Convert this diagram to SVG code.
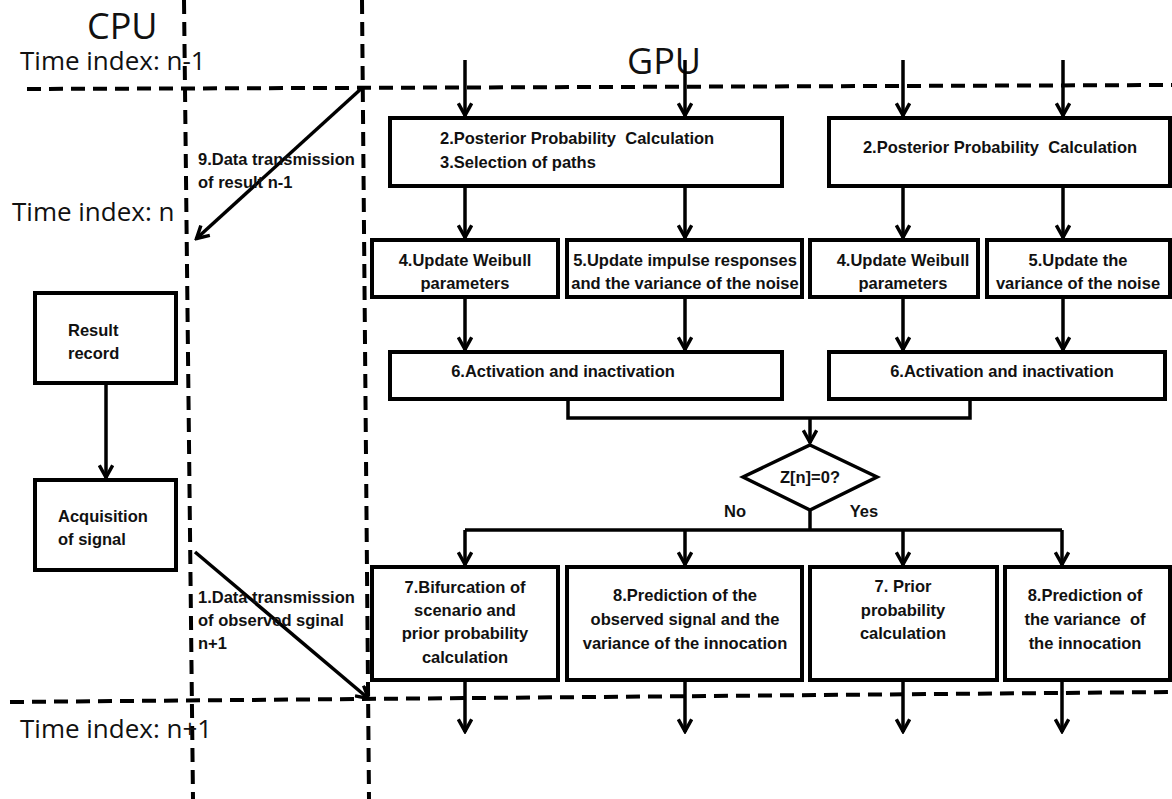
<svg xmlns="http://www.w3.org/2000/svg" width="1172" height="799" viewBox="0 0 1172 799">
<defs>
<marker id="ah2" viewBox="0 0 12 12" refX="10.5" refY="6" markerWidth="16" markerHeight="16" markerUnits="userSpaceOnUse" orient="auto">
<path d="M1,1 L10,6 L1,11" fill="none" stroke="#000" stroke-width="2.6"/>
</marker>
</defs>
<style>
.bx{fill:#fff;stroke:#000;stroke-width:4}
.dash{fill:none;stroke:#000;stroke-width:4;stroke-dasharray:14 8}
.ln{fill:none;stroke:#000;stroke-width:3.5}
.ar{fill:none;stroke:#000;stroke-width:3.5;marker-end:url(#ah2)}
.t{font-family:"Liberation Sans",Arial,sans-serif;font-weight:bold;font-size:16.5px;fill:#111}
.tm{text-anchor:middle}
.big{font-family:"Open Sans","Liberation Sans",sans-serif;font-size:26px;fill:#111}
.huge{font-family:"Open Sans","Liberation Sans",sans-serif;font-size:36px;fill:#111}
</style>
<rect width="1172" height="799" fill="#fff"/>

<g id="frame">
<line class="dash" x1="184" y1="0" x2="193" y2="799"/>
<line class="dash" x1="362" y1="0" x2="369" y2="799"/>
<line class="dash" x1="27" y1="89" x2="1172" y2="85"/>
<line class="dash" x1="10" y1="702" x2="1172" y2="692"/>
<text class="huge" x="87" y="39">CPU</text>
<text class="huge" x="627" y="74">GPU</text>
<text class="big" x="20" y="70">Time index: n-1</text>
<text class="big" x="12" y="221">Time index: n</text>
<text class="big" x="20" y="738">Time index: n+1</text>
</g>

<g id="connectors">
<line class="ar" x1="362" y1="88" x2="196" y2="239"/>
<line class="ar" x1="195" y1="552" x2="369" y2="699"/>
<line class="ar" x1="106" y1="383" x2="106" y2="478"/>
<line class="ar" x1="465" y1="60" x2="465" y2="116"/>
<line class="ar" x1="685" y1="60" x2="685" y2="116"/>
<line class="ar" x1="903" y1="60" x2="903" y2="116"/>
<line class="ar" x1="1063" y1="60" x2="1063" y2="116"/>
<line class="ar" x1="465" y1="186" x2="465" y2="238"/>
<line class="ar" x1="685" y1="186" x2="685" y2="238"/>
<line class="ar" x1="903" y1="186" x2="903" y2="238"/>
<line class="ar" x1="1063" y1="186" x2="1063" y2="238"/>
<line class="ar" x1="465" y1="297" x2="465" y2="350"/>
<line class="ar" x1="685" y1="297" x2="685" y2="350"/>
<line class="ar" x1="903" y1="297" x2="903" y2="350"/>
<line class="ar" x1="1063" y1="297" x2="1063" y2="350"/>
<polyline class="ln" points="568,399 568,418 970,418 970,399"/>
<line class="ar" x1="810" y1="418" x2="810" y2="443"/>
<line class="ln" x1="810" y1="510" x2="810" y2="530"/>
<polyline class="ln" points="465,530 1062,530"/>
<line class="ar" x1="465" y1="530" x2="465" y2="565"/>
<line class="ar" x1="685" y1="530" x2="685" y2="565"/>
<line class="ar" x1="903" y1="530" x2="903" y2="565"/>
<line class="ar" x1="1062" y1="530" x2="1062" y2="565"/>
<line class="ar" x1="465" y1="680" x2="465" y2="732"/>
<line class="ar" x1="685" y1="680" x2="685" y2="732"/>
<line class="ar" x1="903" y1="680" x2="903" y2="732"/>
<line class="ar" x1="1062" y1="680" x2="1062" y2="732"/>
<text class="t" x="198" y="165">9.Data transmission</text>
<text class="t" x="198" y="188">of result n-1</text>
<text class="t" x="198" y="603">1.Data transmission</text>
<text class="t" x="198" y="626">of observed sginal</text>
<text class="t" x="198" y="649">n+1</text>
<text class="t tm" x="735" y="517">No</text>
<text class="t tm" x="864" y="517">Yes</text>
</g>

<g id="result-record">
<rect class="bx" x="35" y="293" width="141" height="90"/>
<text class="t" x="68" y="336">Result</text>
<text class="t" x="68" y="359">record</text>
</g>
<g id="acquisition">
<rect class="bx" x="35" y="480" width="141" height="90"/>
<text class="t" x="58" y="522">Acquisition</text>
<text class="t" x="58" y="545">of signal</text>
</g>

<g id="post-left">
<rect class="bx" x="390" y="118" width="392" height="68"/>
<text class="t" x="440" y="144" xml:space="preserve">2.Posterior Probability  Calculation</text>
<text class="t" x="440" y="168">3.Selection of paths</text>
</g>
<g id="post-right">
<rect class="bx" x="829" y="118" width="341" height="68"/>
<text class="t tm" x="1000" y="153" xml:space="preserve">2.Posterior Probability  Calculation</text>
</g>

<g id="weibull-left">
<rect class="bx" x="372" y="240" width="186" height="57"/>
<text class="t tm" x="465" y="266">4.Update Weibull</text>
<text class="t tm" x="465" y="289">parameters</text>
</g>
<g id="impulse-left">
<rect class="bx" x="567" y="240" width="235" height="57"/>
<text class="t tm" x="685" y="266">5.Update impulse responses</text>
<text class="t tm" x="685" y="289">and the variance of the noise</text>
</g>
<g id="weibull-right">
<rect class="bx" x="810" y="240" width="168" height="57"/>
<text class="t tm" x="903" y="266">4.Update Weibull</text>
<text class="t tm" x="903" y="289">parameters</text>
</g>
<g id="noise-right">
<rect class="bx" x="987" y="240" width="183" height="57"/>
<text class="t tm" x="1078" y="266">5.Update the</text>
<text class="t tm" x="1078" y="289">variance of the noise</text>
</g>

<g id="act-left">
<rect class="bx" x="390" y="352" width="392" height="47"/>
<text class="t tm" x="563" y="377">6.Activation and inactivation</text>
</g>
<g id="act-right">
<rect class="bx" x="829" y="352" width="336" height="47"/>
<text class="t tm" x="1002" y="377">6.Activation and inactivation</text>
</g>

<g id="decision">
<polygon points="810,445 877,477 810,510 743,477" fill="#fff" stroke="#000" stroke-width="3.5"/>
<text class="t tm" x="810" y="483">Z[n]=0?</text>
</g>

<g id="bifurcation">
<rect class="bx" x="372" y="567" width="186" height="113"/>
<text class="t tm" x="465" y="593">7.Bifurcation of</text>
<text class="t tm" x="465" y="616">scenario and</text>
<text class="t tm" x="465" y="639">prior probability</text>
<text class="t tm" x="465" y="663">calculation</text>
</g>
<g id="prediction-left">
<rect class="bx" x="567" y="567" width="235" height="113"/>
<text class="t tm" x="685" y="601">8.Prediction of the</text>
<text class="t tm" x="685" y="625">observed signal and the</text>
<text class="t tm" x="685" y="649">variance of the innocation</text>
</g>
<g id="prior-right">
<rect class="bx" x="810" y="567" width="187" height="113"/>
<text class="t tm" x="903" y="592">7. Prior</text>
<text class="t tm" x="903" y="616">probability</text>
<text class="t tm" x="903" y="639">calculation</text>
</g>
<g id="prediction-right">
<rect class="bx" x="1005" y="567" width="165" height="113"/>
<text class="t tm" x="1085" y="601">8.Prediction of</text>
<text class="t tm" x="1085" y="625" xml:space="preserve">the variance  of</text>
<text class="t tm" x="1085" y="649">the innocation</text>
</g>
</svg>
